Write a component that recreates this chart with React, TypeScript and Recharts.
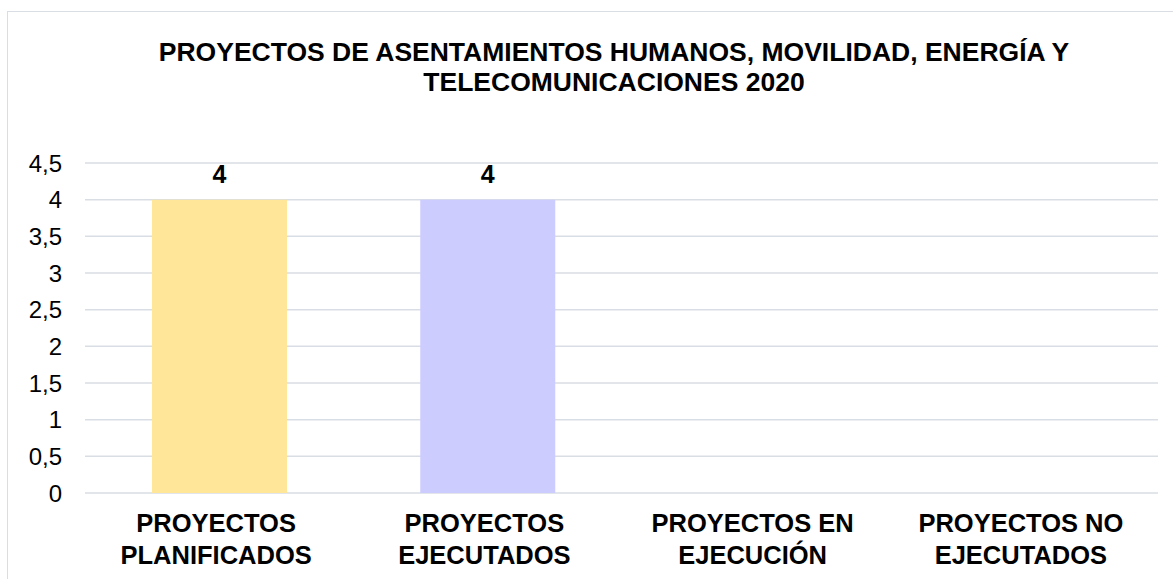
import { Bar, BarChart, CartesianGrid, Cell, LabelList, XAxis, YAxis } from "recharts";

const categories = [
  "PROYECTOS\nPLANIFICADOS",
  "PROYECTOS\nEJECUTADOS",
  "PROYECTOS EN\nEJECUCIÓN",
  "PROYECTOS NO\nEJECUTADOS",
];
const values = [4, 4, 0, 0];
const barColors = ["#FFE699", "#CCCCFF", "#C5E0B4", "#F8CBAD"];
const yTicks = [0, 0.5, 1, 1.5, 2, 2.5, 3, 3.5, 4, 4.5];
const titleLines = [
  "PROYECTOS DE ASENTAMIENTOS HUMANOS, MOVILIDAD, ENERGÍA Y",
  "TELECOMUNICACIONES 2020",
];

const font = '"Liberation Sans", Arial, sans-serif';

const data = categories.map((c, i) => ({ name: c, value: values[i] }));

function CategoryTick(props: any) {
  const { x, y, payload } = props;
  const lines = String(payload.value).split("\n");
  return (
    <text
      x={x - 3}
      y={y}
      textAnchor="middle"
      fontFamily={font}
      fontSize={25.5}
      fontWeight="bold"
      fill="#000"
    >
      {lines.map((l, i) => (
        <tspan key={i} x={x - 3} dy={i === 0 ? 31 : 31.5}>
          {l}
        </tspan>
      ))}
    </text>
  );
}

export default function App() {
  return (
    <div
      style={{
        position: "fixed",
        left: 0,
        top: 0,
        width: 1173,
        height: 579,
        background: "#fff",
        overflow: "hidden",
      }}
    >
      <div
        style={{
          position: "absolute",
          left: 7,
          top: 11,
          width: 1200,
          height: 620,
          border: "1px solid #D9DEE4",
        }}
      />
      <div
        style={{
          position: "absolute",
          left: 0,
          top: 37,
          width: 1228,
          textAlign: "center",
          fontFamily: font,
          fontWeight: "bold",
          fontSize: 26.5,
          lineHeight: "30px",
          color: "#000",
        }}
      >
        {titleLines.map((t, i) => (
          <div key={i}>{t}</div>
        ))}
      </div>
      <div style={{ position: "absolute", left: 0, top: 0 }}>
        <BarChart
          width={1173}
          height={579}
          data={data}
          margin={{ top: 163, right: 15, bottom: 0, left: 0 }}
        >
          <CartesianGrid vertical={false} stroke="#D9DEE5" strokeWidth={1.5} />
          <XAxis
            dataKey="name"
            axisLine={false}
            tickLine={false}
            height={86}
            interval={0}
            tick={<CategoryTick />}
          />
          <YAxis
            width={85}
            domain={[0, 4.5]}
            ticks={yTicks}
            axisLine={false}
            tickLine={false}
            tickMargin={17}
            tickFormatter={(v: number) => String(v).replace(".", ",")}
            tick={{ fontFamily: font, fontSize: 24, fill: "#000" }}
          />
          <Bar dataKey="value" barSize={135} isAnimationActive={false}>
            {data.map((d, i) => (
              <Cell key={d.name} fill={barColors[i]} />
            ))}
            <LabelList
              dataKey="value"
              position="top"
              offset={17}
              style={{ fontFamily: font, fontSize: 25, fontWeight: "bold", fill: "#000" }}
            />
          </Bar>
        </BarChart>
      </div>
    </div>
  );
}
